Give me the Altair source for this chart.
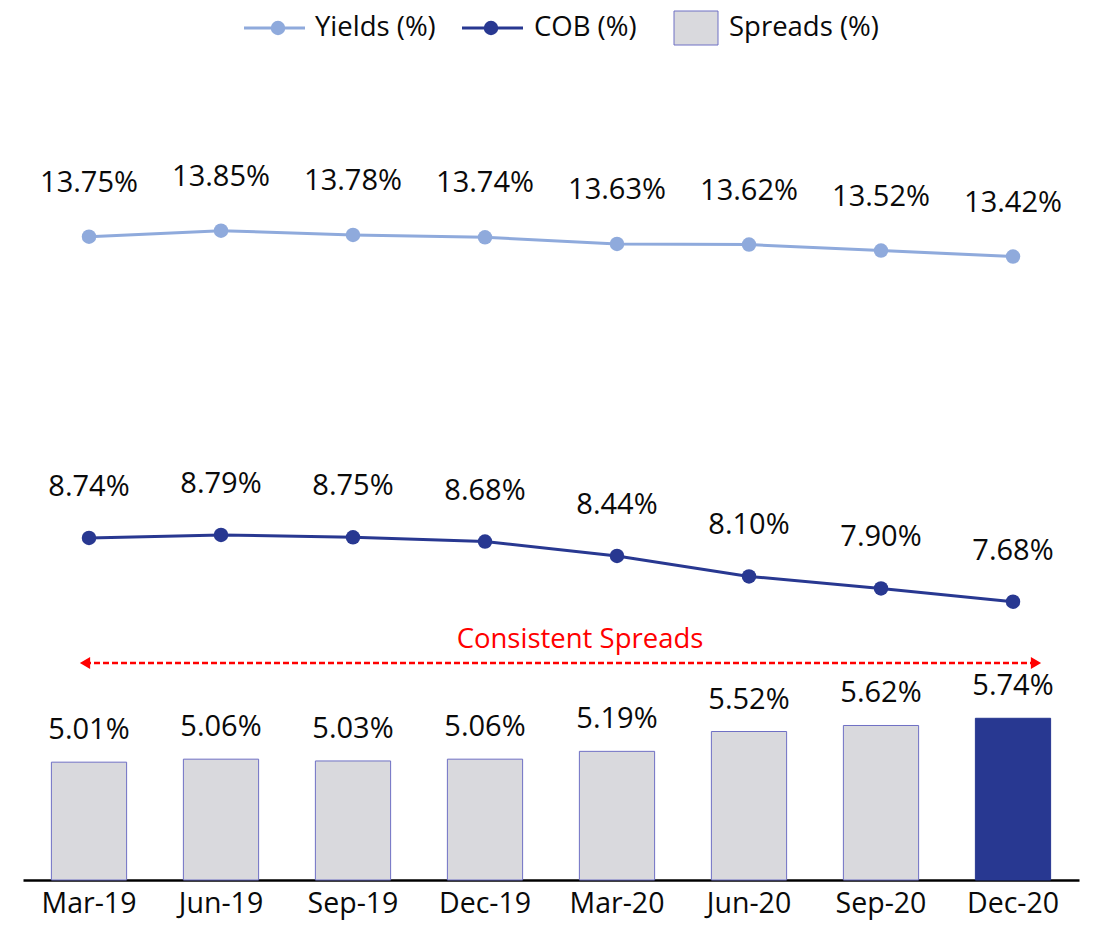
import altair as alt
import pandas as pd

periods = ["Mar-19", "Jun-19", "Sep-19", "Dec-19", "Mar-20", "Jun-20", "Sep-20", "Dec-20"]
yields = [13.75, 13.85, 13.78, 13.74, 13.63, 13.62, 13.52, 13.42]
cob = [8.74, 8.79, 8.75, 8.68, 8.44, 8.10, 7.90, 7.68]
spreads = [5.01, 5.06, 5.03, 5.06, 5.19, 5.52, 5.62, 5.74]

df = pd.DataFrame({"period": periods, "yields": yields, "cob": cob, "spreads": spreads})

FONT = "Open Sans"
LIGHT = "#8FAADC"
DARK = "#283891"
GREY = "#D9D9DD"
TXT = "#0A0A0A"
Y_MIN, Y_MAX = 3.05, 16.69

x = alt.X(
    "period:N", sort=periods,
    scale=alt.Scale(paddingInner=0.43, paddingOuter=0.215),
    axis=alt.Axis(title=None, labelAngle=0, labelFont=FONT, labelFontSize=28.5,
                  labelColor=TXT, labelPadding=9, ticks=False,
                  domainColor="#000000", domainWidth=2.5, grid=False),
)
yscale = alt.Scale(domain=[Y_MIN, Y_MAX], zero=False, clamp=True, nice=False)


def yq(f):
    return alt.Y(f"{f}:Q", scale=yscale, axis=None)


base = alt.Chart(df)
is_last = alt.datum.period == "Dec-20"

bars = base.mark_bar(strokeWidth=1).encode(
    x=x, y=yq("spreads"),
    color=alt.condition(is_last, alt.value(DARK), alt.value(GREY)),
    stroke=alt.condition(is_last, alt.value(DARK), alt.value("#6F70C4")),
)
bar_text = base.transform_calculate(lbl="format(datum.spreads, '.2f') + '%'").mark_text(
    dy=-32, baseline="middle", font=FONT, fontSize=29, color=TXT
).encode(x=x, y=yq("spreads"), text="lbl:N")

layers = [bars, bar_text]
for field, color, off in [("yields", LIGHT, -54), ("cob", DARK, -51)]:
    layers.append(base.mark_line(color=color, strokeWidth=3).encode(x=x, y=yq(field)))
    layers.append(base.mark_point(filled=True, size=210, opacity=1, color=color).encode(x=x, y=yq(field)))
    layers.append(
        base.transform_calculate(lbl=f"format(datum.{field}, '.2f') + '%'").mark_text(
            dy=off, baseline="middle", font=FONT, fontSize=29, color=TXT
        ).encode(x=x, y=yq(field), text="lbl:N")
    )

one = alt.Chart(pd.DataFrame({"a": [0]}))

# Annotation: consistent spreads arrow
layers.append(one.mark_rule(color="#FF0000", strokeWidth=2.5, strokeDash=[6, 3]).encode(
    x=alt.value(62), x2=alt.value(1012), y=alt.value(603)))
layers.append(one.mark_point(shape="triangle-left", filled=True, size=140, opacity=1, color="#FF0000").encode(
    x=alt.value(62), y=alt.value(603)))
layers.append(one.mark_point(shape="triangle-right", filled=True, size=140, opacity=1, color="#FF0000").encode(
    x=alt.value(1013), y=alt.value(603)))
layers.append(one.mark_text(font=FONT, fontSize=27.5, color="#FF0000", baseline="middle").encode(
    x=alt.value(557), y=alt.value(580), text=alt.value("Consistent Spreads")))

# Legend
LY = -32
layers.append(one.mark_rule(color=LIGHT, strokeWidth=3).encode(x=alt.value(221), x2=alt.value(282), y=alt.value(LY)))
layers.append(one.mark_point(filled=True, size=210, opacity=1, color=LIGHT).encode(x=alt.value(255), y=alt.value(LY)))
layers.append(one.mark_text(font=FONT, fontSize=27.5, color=TXT, align="left", baseline="middle").encode(
    x=alt.value(292), y=alt.value(LY), text=alt.value("Yields (%)")))
layers.append(one.mark_rule(color=DARK, strokeWidth=3).encode(x=alt.value(439), x2=alt.value(500), y=alt.value(LY)))
layers.append(one.mark_point(filled=True, size=210, opacity=1, color=DARK).encode(x=alt.value(468), y=alt.value(LY)))
layers.append(one.mark_text(font=FONT, fontSize=27.5, color=TXT, align="left", baseline="middle").encode(
    x=alt.value(511), y=alt.value(LY), text=alt.value("COB (%)")))
layers.append(one.mark_rect(color=GREY, stroke="#6F70C4", strokeWidth=1).encode(
    x=alt.value(651), x2=alt.value(695), y=alt.value(-49), y2=alt.value(-15)))
layers.append(one.mark_text(font=FONT, fontSize=27.5, color=TXT, align="left", baseline="middle").encode(
    x=alt.value(706), y=alt.value(LY), text=alt.value("Spreads (%)")))

chart = alt.layer(*layers).properties(
    width=1056, height=820,
    padding={"left": 15, "top": 52, "right": 7, "bottom": 44},
    autosize=alt.AutoSizeParams(type="none"),
).configure_view(stroke=None)

chart.save("out.html", embed_options={"renderer": "svg", "actions": False})
